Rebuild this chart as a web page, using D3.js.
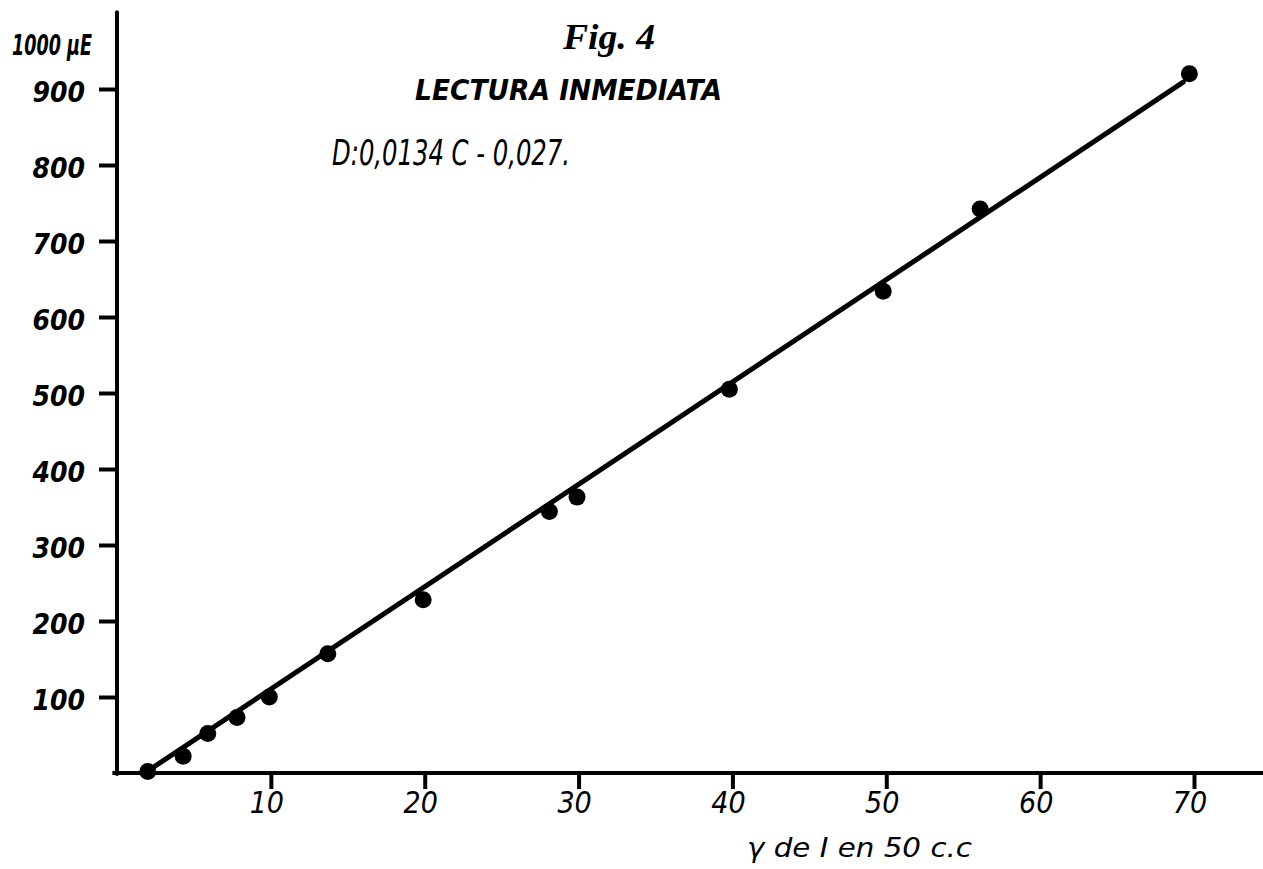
<!DOCTYPE html>
<html>
<head>
<meta charset="utf-8">
<script src="https://cdn.jsdelivr.net/npm/d3@7"></script>
<style>
  html, body { margin: 0; padding: 0; background: #fff; }
  #chart { width: 1263px; height: 869px; }
</style>
</head>
<body>
<div id="chart"></div>
<script>
// Measured points (γ of I in 50 c.c, reading in μE)
const concentrations = [2, 4.3, 5.9, 7.8, 9.9, 13.7, 19.9, 28.1, 29.9, 39.8, 49.8, 56.1, 69.7];
const readings = [2, 22, 52, 73, 100, 157, 228, 344, 363, 505, 634, 742, 920];

// Fitted line ends
const fitC = [1.8, 69.3];
const fitD = [0, 909];

// Tick labels
const xTicks = [10, 20, 30, 40, 50, 60, 70];
const yTicks = [100, 200, 300, 400, 500, 600, 700, 800, 900];

const figLabel = 'Fig. 4';
const title = 'LECTURA INMEDIATA';
const equation = 'D:0,0134 C - 0,027.';
const yUnitLabel = '1000 μE';
const xAxisLabel = 'γ de I en 50 c.c';

const width = 1263;
const height = 869;

const svg = d3.select('#chart')
  .append('svg')
  .attr('width', width)
  .attr('height', height)
  .style('background', '#fff');

// Scales
const x = d3.scaleLinear().domain([0, 70]).range([117, 1194]);
const y = d3.scaleLinear().domain([0, 1000]).range([773, 13]);

const ink = '#000';
const sans = '"DejaVu Sans", sans-serif';
const condensed = '"DejaVu Sans Condensed", "DejaVu Sans", sans-serif';

// Axis lines
svg.append('line')
  .attr('x1', x(0)).attr('x2', x(0))
  .attr('y1', y(0) + 1).attr('y2', y(1001))
  .attr('stroke', ink)
  .attr('stroke-width', 4)
  .attr('stroke-linecap', 'round');

svg.append('line')
  .attr('x1', x(-0.3)).attr('x2', x(75))
  .attr('y1', y(0)).attr('y2', y(0))
  .attr('stroke', ink)
  .attr('stroke-width', 4);

// Y axis ticks and labels
const yAxis = svg.append('g')
  .attr('transform', `translate(${x(0)},0)`)
  .call(d3.axisLeft(y)
    .tickValues(yTicks)
    .tickSize(18)
    .tickPadding(14)
    .tickFormat(d3.format('d')));

yAxis.select('.domain').remove();
yAxis.selectAll('line')
  .attr('stroke', ink)
  .attr('stroke-width', 4);
yAxis.selectAll('text')
  .attr('fill', ink)
  .attr('dy', '0.45em')
  .style('font-family', condensed)
  .style('font-style', 'oblique')
  .style('font-weight', 'bold')
  .style('font-size', '28px');

// X axis ticks and labels
const xAxis = svg.append('g')
  .attr('transform', `translate(0,${y(0)})`)
  .call(d3.axisBottom(x)
    .tickValues(xTicks)
    .tickSize(16)
    .tickPadding(3)
    .tickFormat(d3.format('d')));

xAxis.select('.domain').remove();
xAxis.selectAll('line')
  .attr('stroke', ink)
  .attr('stroke-width', 4);
xAxis.selectAll('text')
  .attr('fill', ink)
  .attr('dx', '-0.15em')
  .style('font-family', condensed)
  .style('font-style', 'oblique')
  .style('font-size', '30px');

// Fitted line
const line = d3.line()
  .x(d => x(d[0]))
  .y(d => y(d[1]));

svg.append('path')
  .datum(d3.zip(fitC, fitD))
  .attr('d', line)
  .attr('fill', 'none')
  .attr('stroke', ink)
  .attr('stroke-width', 5)
  .attr('stroke-linecap', 'round');

// Dots
svg.selectAll('.dot')
  .data(d3.zip(concentrations, readings))
  .enter()
  .append('circle')
  .attr('class', 'dot')
  .attr('cx', d => x(d[0]))
  .attr('cy', d => y(d[1]))
  .attr('r', 8.5)
  .attr('fill', ink);

// Unit label on top of the y axis
svg.append('text')
  .attr('x', 12)
  .attr('y', 55)
  .attr('textLength', 80)
  .attr('lengthAdjust', 'spacingAndGlyphs')
  .style('font-family', condensed)
  .style('font-style', 'oblique')
  .style('font-weight', 'bold')
  .style('font-size', '28px')
  .attr('fill', ink)
  .text(yUnitLabel);

// Figure number
svg.append('text')
  .attr('x', 563)
  .attr('y', 49)
  .attr('textLength', 92)
  .attr('lengthAdjust', 'spacingAndGlyphs')
  .style('font-family', '"Liberation Serif", "DejaVu Serif", serif')
  .style('font-style', 'italic')
  .style('font-weight', 'bold')
  .style('font-size', '36px')
  .attr('fill', ink)
  .text(figLabel);

// Title
svg.append('text')
  .attr('x', 415)
  .attr('y', 100)
  .attr('textLength', 307)
  .attr('lengthAdjust', 'spacingAndGlyphs')
  .style('font-family', sans)
  .style('font-style', 'oblique')
  .style('font-weight', 'bold')
  .style('font-size', '28px')
  .attr('fill', ink)
  .text(title);

// Equation
svg.append('text')
  .attr('x', 332)
  .attr('y', 165)
  .attr('textLength', 238)
  .attr('lengthAdjust', 'spacingAndGlyphs')
  .style('font-family', condensed)
  .style('font-style', 'oblique')
  .style('font-size', '35px')
  .attr('fill', ink)
  .text(equation);

// X axis label
svg.append('text')
  .attr('x', 747)
  .attr('y', 857)
  .attr('textLength', 225)
  .attr('lengthAdjust', 'spacingAndGlyphs')
  .style('font-family', sans)
  .style('font-style', 'oblique')
  .style('font-size', '27px')
  .attr('fill', ink)
  .text(xAxisLabel);
</script>
</body>
</html>
